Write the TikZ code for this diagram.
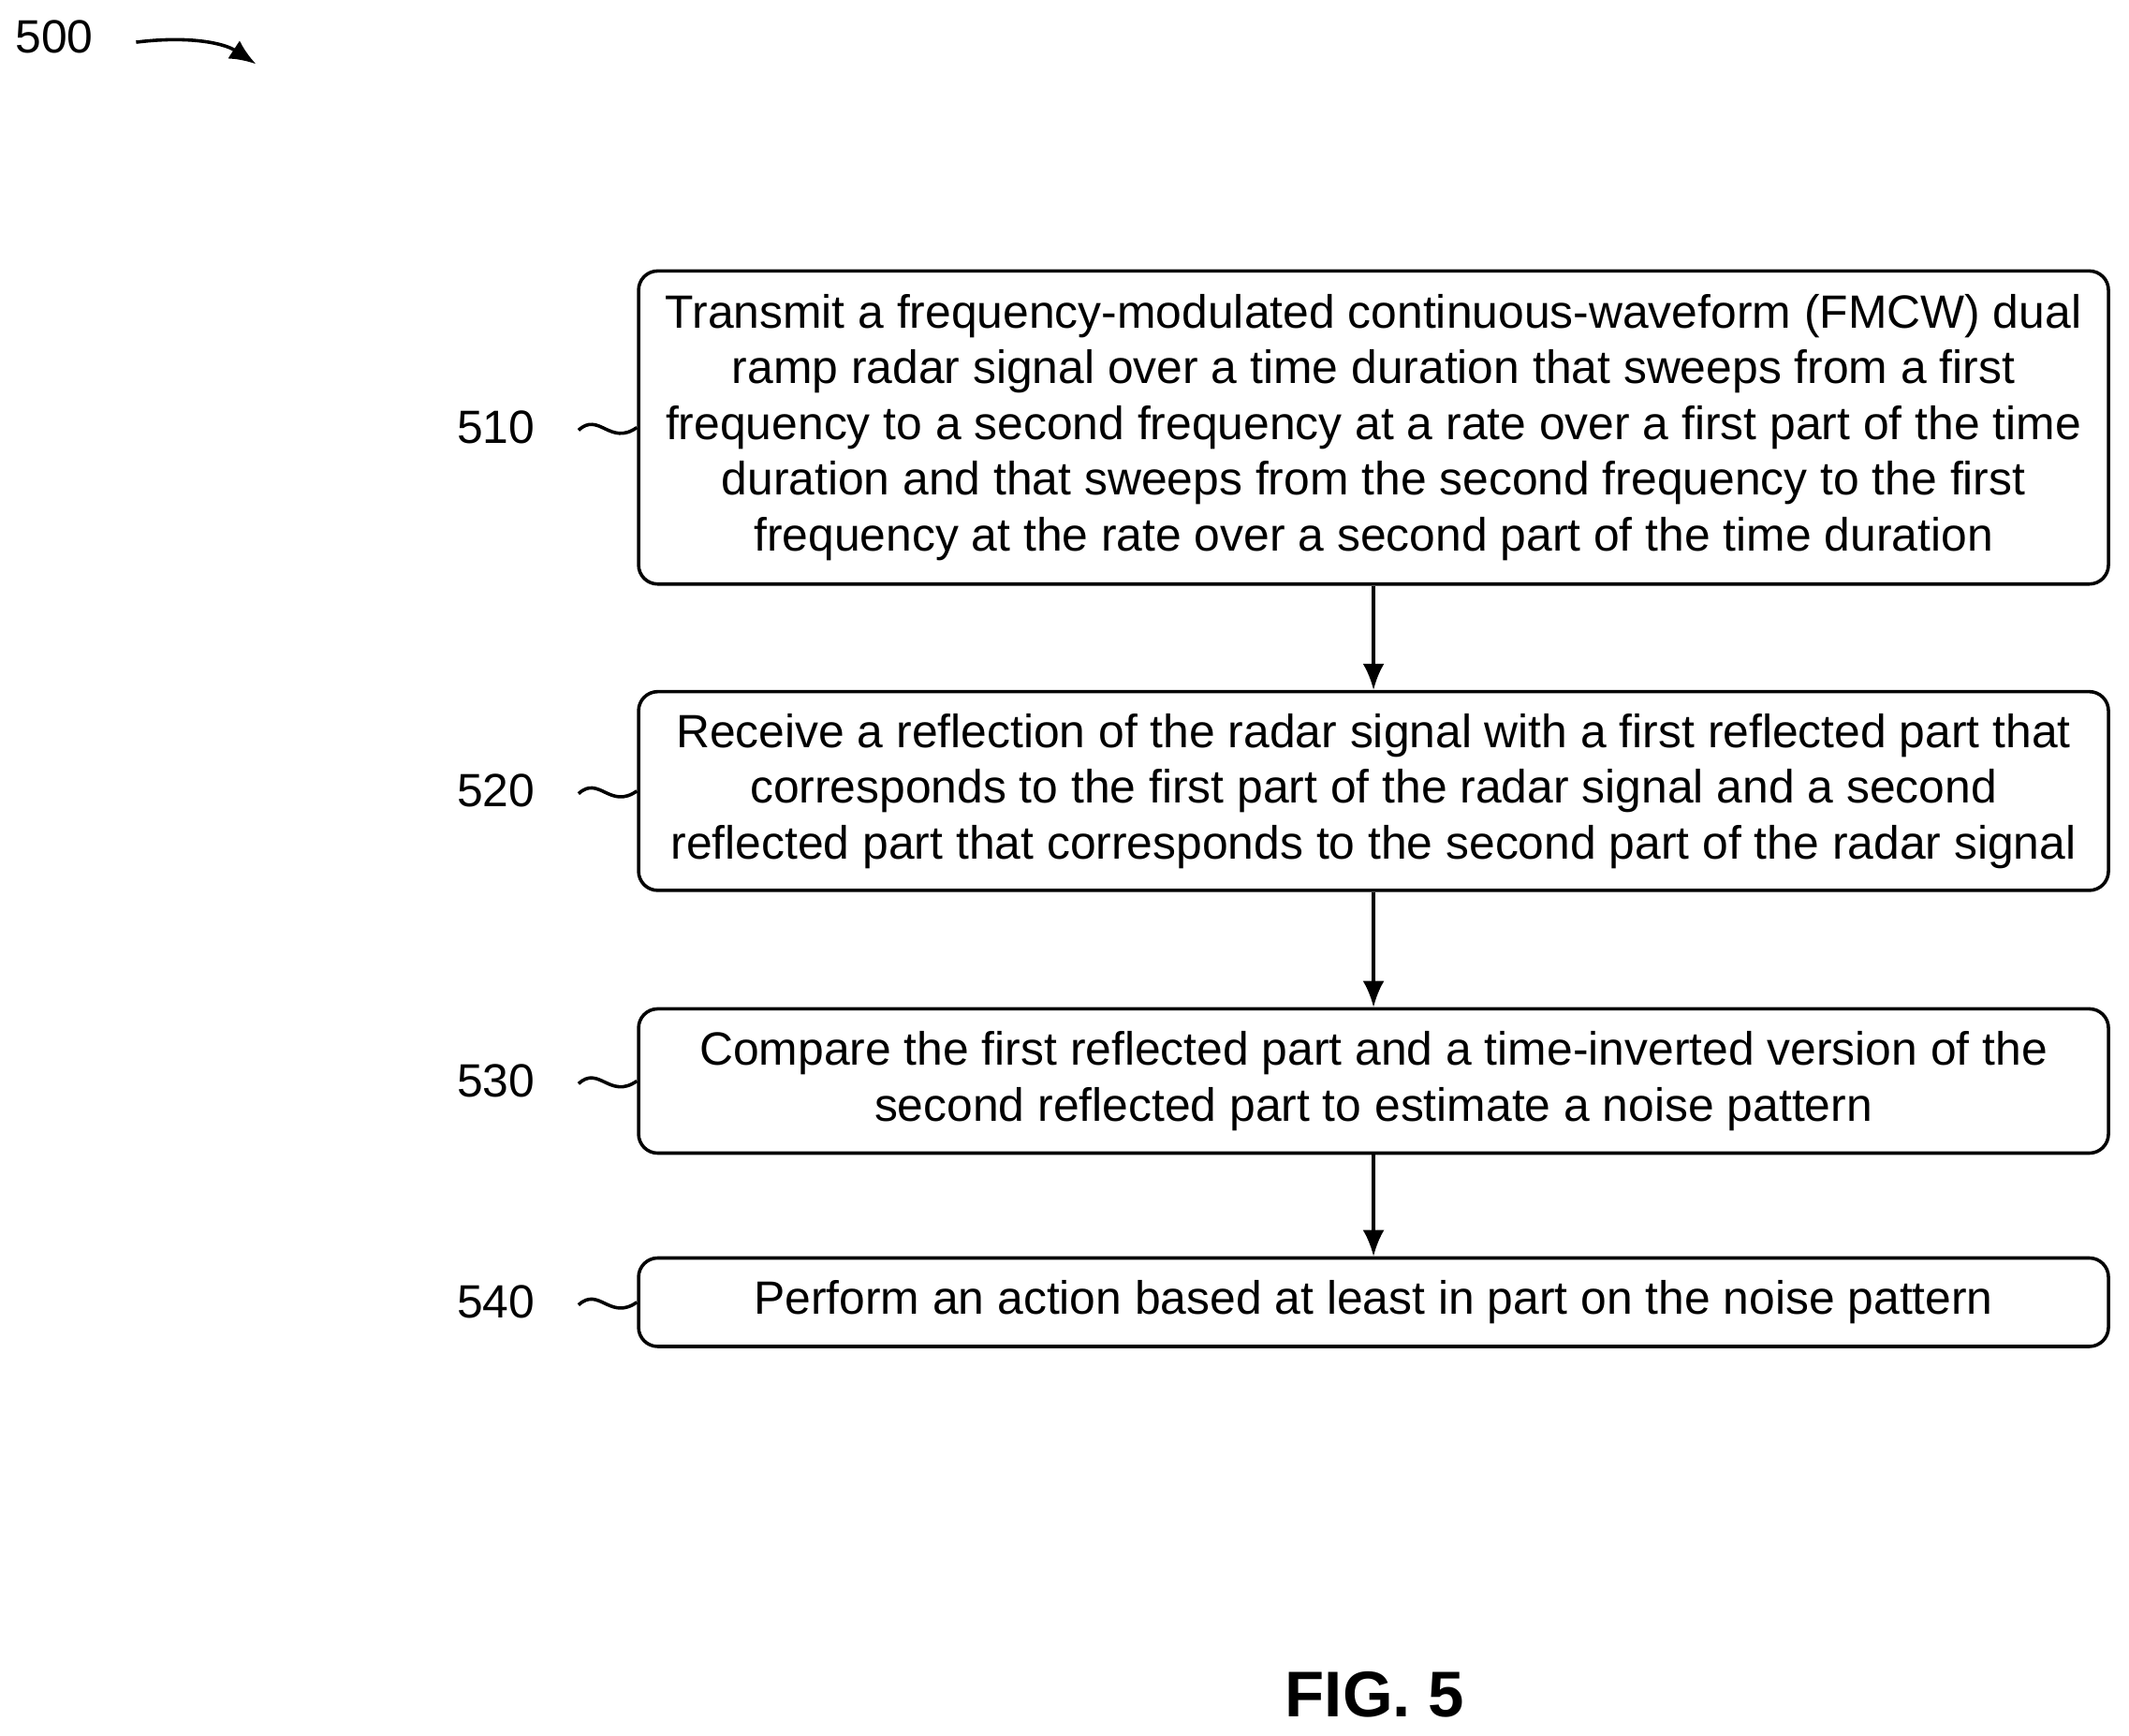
\documentclass[tikz,border=0pt]{standalone}
\usepackage{fontspec}
\setmainfont{Liberation Sans}
\usetikzlibrary{positioning,arrows.meta}
\begin{document}
\begin{tikzpicture}[x=0.02cm,y=-0.02cm,line width=1.4pt,
  stepbox/.style={draw,rounded corners=8pt,minimum width=21.6cm,align=center,
    font=\fontsize{19.5}{23.3}\selectfont,inner sep=0pt},
  ref/.style={font=\fontsize{19.5}{22}\selectfont},
  flow/.style={-{Latex[length=11pt,width=9pt]}}]
\useasboundingbox (0,0) rectangle (1564,1275);
\node[ref] (n500) at (40,27) {500};
\draw[-{Latex[length=11pt,width=9pt]}] (100,31) .. controls (140,26) and (165,32) .. (188,47);
% steps
\node[stepbox,minimum height=4.6cm] (s510) at (1009,314) {Transmit a frequency-modulated continuous-waveform (FMCW) dual\\ramp radar signal over a time duration that sweeps from a first\\frequency to a second frequency at a rate over a first part of the time\\duration and that sweeps from the second frequency to the first\\frequency at the rate over a second part of the time duration};
\node[stepbox,minimum height=2.92cm] (s520) at (1009,581) {Receive a reflection of the radar signal with a first reflected part that\\corresponds to the first part of the radar signal and a second\\reflected part that corresponds to the second part of the radar signal};
\node[stepbox,minimum height=2.12cm] (s530) at (1009,794) {Compare the first reflected part and a time-inverted version of the\\second reflected part to estimate a noise pattern};
\node[stepbox,minimum height=1.3cm] (s540) at (1009,956.5) {Perform an action based at least in part on the noise pattern};
\draw[flow] (s510) -- (s520);
\draw[flow] (s520) -- (s530);
\draw[flow] (s530) -- (s540);
% reference labels
\foreach \n/\yy in {510/314,520/581,530/794,540/956.5} {
  \node[ref,anchor=east] (l\n) at (400,\yy) {\n};
  \draw (425,\yy+2) .. controls (440,\yy-12) and (448,\yy+14) .. (s\n.west);
}
\node[font=\bfseries\fontsize{27}{30}\selectfont] (fig) at (1010,1245) {FIG. 5};
\end{tikzpicture}
\end{document}
